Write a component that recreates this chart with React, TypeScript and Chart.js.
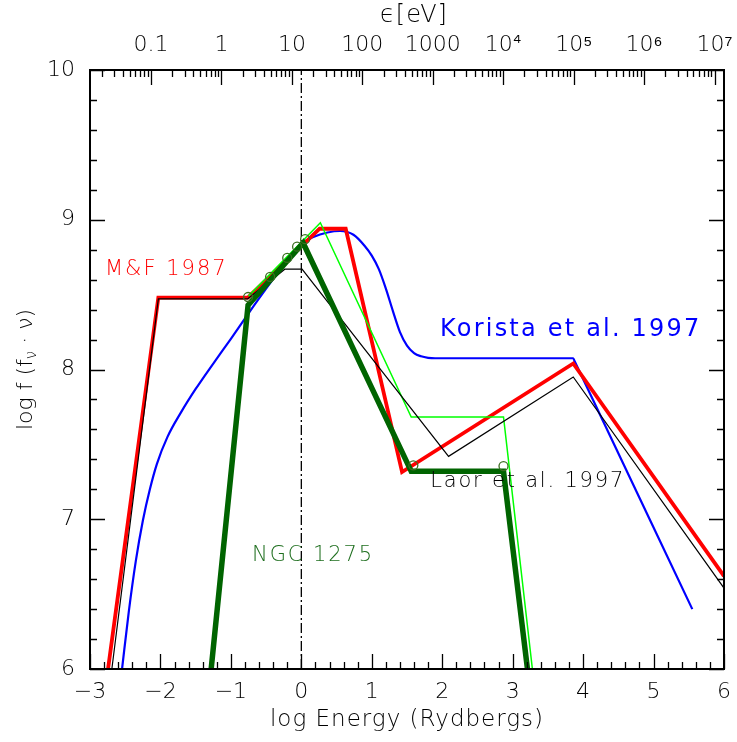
import React, { useEffect, useRef } from "react";
import { Chart, registerables } from "chart.js";

Chart.register(...registerables);

// ---- axes ----
const X_MIN = -3;
const X_MAX = 6;
const Y_MIN = 6;
const Y_MAX = 10;
const RYD_EV_LOG = Math.log10(13.6057);

const bottomTicks = [-3, -2, -1, 0, 1, 2, 3, 4, 5, 6];
const leftTicks = [6, 7, 8, 9, 10];
const topTickLogEv = [-1, 0, 1, 2, 3, 4, 5, 6, 7];
const topTickLabels = ["0.1", "1", "10", "100", "1000", "10⁴", "10⁵", "10⁶", "10⁷"];

// ---- M&F 1987 (red) ----
const mfX = [-2.744, -2.03, -0.76, 0.26, 0.63, 1.43, 3.86, 6.0];
const mfY = [6.0, 8.48, 8.48, 8.94, 8.94, 7.315, 8.04, 6.62];

// ---- Laor et al. 1997 (black) ----
const laorX = [-2.69, -2.03, -0.76, -0.235, 0.01, 2.09, 3.86, 6.0];
const laorY = [6.0, 8.472, 8.472, 8.67, 8.67, 7.42, 7.95, 6.54];

// ---- Korista et al. 1997 (blue) ----
const koristaX = [-2.545, -2.45, -2.35, -2.25, -2.15, -2.05, -1.9, -1.7, -1.5, -1.25, -1.0, -0.75, -0.5, -0.25, 0.0, 0.17, 0.37, 0.55, 0.74, 0.9, 1.0, 1.1, 1.2, 1.3, 1.4, 1.5, 1.6, 1.7, 1.8, 1.9, 3.86, 3.88, 5.55];
const koristaY = [6.0, 6.38, 6.72, 6.99, 7.2, 7.37, 7.55, 7.72, 7.87, 8.04, 8.205, 8.375, 8.54, 8.697, 8.84, 8.885, 8.915, 8.925, 8.9, 8.825, 8.76, 8.67, 8.54, 8.39, 8.25, 8.16, 8.11, 8.088, 8.078, 8.075, 8.075, 8.055, 6.4];

// ---- NGC 1275 (dark green, thick) ----
const ngcX = [-1.28, -0.756, 0.026, 1.56, 2.87, 3.21];
const ngcY = [6.0, 8.43, 8.845, 7.32, 7.32, 6.0];

// ---- NGC 1275 measured points (circles) ----
const ngcPtsX = [-0.756, -0.443, -0.2, -0.06, 0.054, 1.59, 2.87];
const ngcPtsY = [8.484, 8.618, 8.745, 8.82, 8.87, 7.36, 7.355];

// ---- light green model ----
const lgX = [-0.75, 0.27, 1.56, 2.87, 3.28];
const lgY = [8.49, 8.98, 7.683, 7.683, 6.0];

// ---- vertical reference (log E = 0) ----
const refX = [0, 0];
const refY = [Y_MIN, Y_MAX];

const FONT = '"DejaVu Sans", sans-serif';
const W = "200";

const labels = [
  { text: "M&F 1987", x: -2.787, y: 8.665, color: "#ff0000", size: 21, weight: W, spacing: 2 },
  { text: "Korista et al. 1997", x: 1.97, y: 8.264, color: "#0000ff", size: 24, weight: "normal", spacing: 2.2 },
  { text: "Laor et al. 1997", x: 1.83, y: 7.25, color: "#000000", size: 21, weight: W, spacing: 1.8 },
  { text: "NGC 1275", x: -0.7, y: 6.755, color: "#1e6e1e", size: 21, weight: W, spacing: 1.9 },
];

const pts = (xs: number[], ys: number[]) => xs.map((x, i) => ({ x, y: ys[i] }));
const fmtMinus = (v: number) => (v < 0 ? "\u2212" + Math.abs(v) : String(v));

const decorPlugin = {
  id: "decor",
  afterDatasetsDraw(chart: any) {
    const { ctx, chartArea: a, scales } = chart;
    const sx = scales.x;
    const sy = scales.y;
    const st = scales.xTop;
    ctx.save();
    ctx.strokeStyle = "#000";
    ctx.lineWidth = 1.3;
    ctx.beginPath();
    // bottom ticks
    for (let i = 0; i <= 45; i++) {
      const v = X_MIN + i * 0.2;
      const px = Math.round(sx.getPixelForValue(v)) + 0.5;
      const len = i % 5 === 0 ? 15 : 7;
      ctx.moveTo(px, a.bottom);
      ctx.lineTo(px, a.bottom - len);
    }
    // left & right ticks
    for (let i = 0; i <= 20; i++) {
      const v = Y_MIN + i * 0.2;
      const py = Math.round(sy.getPixelForValue(v)) + 0.5;
      const len = i % 5 === 0 ? 15 : 7;
      ctx.moveTo(a.left, py);
      ctx.lineTo(a.left + len, py);
      ctx.moveTo(a.right, py);
      ctx.lineTo(a.right - len, py);
    }
    // top (log eV) ticks
    for (let d = -2; d <= 7; d++) {
      for (let k = 1; k <= 9; k++) {
        const v = d + Math.log10(k);
        if (v < st.min || v > st.max) continue;
        const px = Math.round(st.getPixelForValue(v)) + 0.5;
        const len = k === 1 ? 15 : 7;
        ctx.moveTo(px, a.top);
        ctx.lineTo(px, a.top + len);
      }
    }
    ctx.stroke();
    // frame
    ctx.lineWidth = 2;
    ctx.strokeRect(a.left, a.top, a.right - a.left, a.bottom - a.top);

    // in-plot labels
    ctx.textBaseline = "middle";
    ctx.textAlign = "left";
    for (const l of labels) {
      ctx.font = `${l.weight} ${l.size}px ${FONT}`;
      (ctx as any).letterSpacing = `${l.spacing}px`;
      ctx.fillStyle = l.color;
      ctx.fillText(l.text, sx.getPixelForValue(l.x), sy.getPixelForValue(l.y));
    }

    // axis titles
    ctx.fillStyle = "#000";
    ctx.textAlign = "center";
    ctx.font = `${W} 23px ${FONT}`;
    (ctx as any).letterSpacing = "1px";
    const cx = (a.left + a.right) / 2;
    ctx.fillText("log Energy (Rydbergs)", cx, 720);
    ctx.font = `${W} 24px ${FONT}`;
    ctx.fillText("\u03F5[eV]", cx + 7, 16);
    (ctx as any).letterSpacing = "0px";

    // y title with subscript nu
    ctx.save();
    ctx.translate(26, (a.top + a.bottom) / 2);
    ctx.rotate(-Math.PI / 2);
    const p1 = "log f (f";
    const p2 = "\u03BD";
    const p3 = " \u00B7 \u03BD)";
    ctx.font = `${W} 22px ${FONT}`;
    const w1 = ctx.measureText(p1).width;
    const w3 = ctx.measureText(p3).width;
    ctx.font = `${W} 15px ${FONT}`;
    const w2 = ctx.measureText(p2).width;
    const total = w1 + w2 + w3;
    let x0 = -total / 2;
    ctx.textAlign = "left";
    ctx.font = `${W} 22px ${FONT}`;
    ctx.fillText(p1, x0, 0);
    x0 += w1;
    ctx.font = `${W} 15px ${FONT}`;
    ctx.fillText(p2, x0, 6);
    x0 += w2;
    ctx.font = `${W} 22px ${FONT}`;
    ctx.fillText(p3, x0, 0);
    ctx.restore();

    ctx.restore();
  },
};

const noPad = (s: any) => {
  s.paddingLeft = 0;
  s.paddingRight = 0;
  s.paddingTop = 0;
  s.paddingBottom = 0;
};

export default function App() {
  const ref = useRef<HTMLCanvasElement | null>(null);

  useEffect(() => {
    document.body.style.margin = "0";
    const canvas = ref.current;
    if (!canvas) return;
    const lineDs = (label: string, xs: number[], ys: number[], color: string, width: number, order: number, extra: any = {}) => ({
      type: "line",
      label,
      data: pts(xs, ys),
      borderColor: color,
      backgroundColor: color,
      borderWidth: width,
      pointRadius: 0,
      tension: 0,
      fill: false,
      order,
      xAxisID: "x",
      yAxisID: "y",
      borderJoinStyle: "miter",
      ...extra,
    });

    const tickFont = { family: FONT, size: 22, weight: W };

    const chart = new Chart(canvas, {
      type: "line",
      data: {
        datasets: [
          {
            type: "line",
            label: "NGC 1275 points",
            data: pts(ngcPtsX, ngcPtsY),
            showLine: false,
            pointStyle: "circle",
            pointRadius: 4.5,
            pointBorderWidth: 1.3,
            pointBorderColor: "#3c6e22",
            pointBackgroundColor: "rgba(0,0,0,0)",
            borderColor: "#3c6e22",
            order: 0,
            xAxisID: "x",
            yAxisID: "y",
          },
          lineDs("NGC 1275", ngcX, ngcY, "#006400", 5.5, 1),
          lineDs("Laor et al. 1997", laorX, laorY, "#000000", 1.2, 2),
          lineDs("light green", lgX, lgY, "#00ff00", 1.5, 3),
          lineDs("M&F 1987", mfX, mfY, "#ff0000", 3.8, 4),
          lineDs("Korista et al. 1997", koristaX, koristaY, "#0000ff", 2.2, 5, { cubicInterpolationMode: "monotone" }),
          lineDs("log E = 0", refX, refY, "#000000", 1.3, 6, { borderDash: [10, 3, 2, 3] }),
        ] as any,
      },
      options: {
        animation: false,
        responsive: false,
        devicePixelRatio: 1,
        layout: { padding: { left: 0, right: 13, top: 0, bottom: 0 } },
        plugins: { legend: { display: false }, tooltip: { enabled: false }, title: { display: false } },
        scales: {
          x: {
            type: "linear",
            position: "bottom",
            min: X_MIN,
            max: X_MAX,
            afterBuildTicks: (s: any) => {
              s.ticks = bottomTicks.map((v) => ({ value: v }));
            },
            afterFit: (s: any) => {
              s.height = 73;
              noPad(s);
            },
            ticks: {
              callback: (v: any) => fmtMinus(Number(v)),
              font: tickFont,
              color: "#000",
              padding: 10,
              maxRotation: 0,
              autoSkip: false,
            },
            grid: { display: false, drawTicks: false },
            border: { display: false },
          },
          xTop: {
            type: "linear",
            position: "top",
            min: X_MIN + RYD_EV_LOG,
            max: X_MAX + RYD_EV_LOG,
            afterBuildTicks: (s: any) => {
              s.ticks = topTickLogEv.map((v) => ({ value: v }));
            },
            afterFit: (s: any) => {
              s.height = 70;
              noPad(s);
            },
            ticks: {
              callback: (v: any) => topTickLabels[topTickLogEv.indexOf(Number(v))],
              font: tickFont,
              color: "#000",
              padding: 12,
              maxRotation: 0,
              autoSkip: false,
            },
            grid: { display: false, drawTicks: false },
            border: { display: false },
          },
          y: {
            type: "linear",
            position: "left",
            min: Y_MIN,
            max: Y_MAX,
            afterBuildTicks: (s: any) => {
              s.ticks = leftTicks.map((v) => ({ value: v }));
            },
            afterFit: (s: any) => {
              s.width = 90;
              noPad(s);
            },
            ticks: {
              font: tickFont,
              color: "#000",
              padding: 15,
            },
            grid: { display: false, drawTicks: false },
            border: { display: false },
          },
        },
      } as any,
      plugins: [decorPlugin as any],
    });
    return () => chart.destroy();
  }, []);

  return (
    <div style={{ position: "fixed", left: 0, top: 0, width: 737, height: 742, background: "#fff" }}>
      <canvas ref={ref} width={737} height={742} style={{ width: 737, height: 742, display: "block" }} />
    </div>
  );
}
